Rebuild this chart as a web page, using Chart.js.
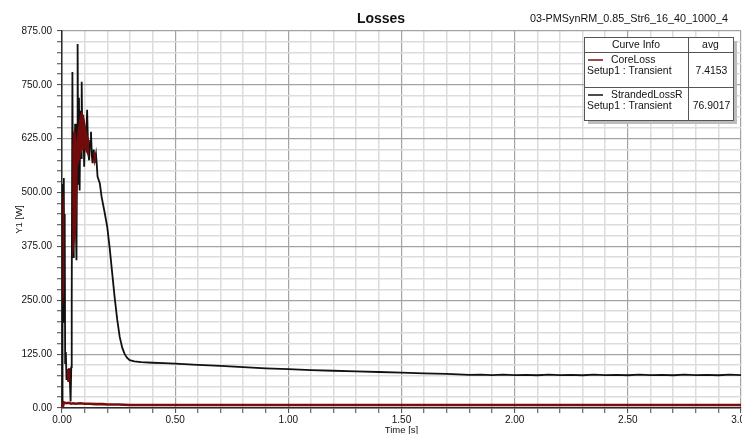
<!DOCTYPE html>
<html>
<head>
<meta charset="utf-8">
<script src="https://cdn.jsdelivr.net/npm/chart.js@4.4.1/dist/chart.umd.min.js"></script>
<style>
  html, body { margin: 0; padding: 0; background: #ffffff; overflow: hidden; }
  #wrap { width: 742px; height: 434px; position: relative; }
</style>
</head>
<body>
<div id="wrap"><canvas id="losses" width="742" height="434"></canvas></div>
<script>
// ---- StrandedLossR (W) over time (s) ----
const strandedTime = [
  0.000, 0.001, 0.002, 0.004, 0.006, 0.008, 0.010, 0.012, 0.014, 0.017,
  0.020, 0.024, 0.028, 0.032, 0.035, 0.038, 0.041, 0.043, 0.046, 0.049,
  0.052, 0.055, 0.058, 0.061, 0.064, 0.067, 0.069, 0.072, 0.075, 0.078,
  0.081, 0.084, 0.087, 0.090, 0.094, 0.098, 0.102, 0.106, 0.111, 0.116,
  0.120, 0.124, 0.128, 0.132, 0.135, 0.140, 0.145, 0.150, 0.153, 0.157,
  0.167, 0.175, 0.189, 0.200, 0.211, 0.222, 0.233, 0.244, 0.255, 0.266,
  0.277, 0.288, 0.299, 0.320, 0.350, 0.400, 0.450, 0.500, 0.600, 0.700,
  0.800, 0.900, 1.000, 1.100, 1.200, 1.300, 1.400, 1.500, 1.600, 1.700,
  1.750, 1.800, 1.850, 1.900, 1.950, 2.000, 2.050, 2.100, 2.150, 2.200,
  2.250, 2.300, 2.350, 2.400, 2.450, 2.500, 2.550, 2.600, 2.650, 2.700,
  2.750, 2.800, 2.850, 2.900, 2.950, 3.000
];
const strandedLoss = [
  0, 505, 210, 520, 250, 534, 200, 450, 104, 130,
  65, 90, 62, 92, 60, 15, 95, 250, 780, 350,
  640, 420, 660, 430, 343, 650, 845, 520, 720, 505,
  690, 580, 757, 600, 680, 560, 650, 600, 692, 590,
  575, 620, 641, 585, 568, 600, 575, 590, 570, 537,
  522, 490, 452, 420, 370, 312, 255, 205, 165, 140,
  125, 116, 111, 108, 106.5, 105, 104, 103, 100, 98,
  95, 92, 90, 88, 86.5, 85, 83.5, 82, 80.5, 79,
  78, 77, 77.5, 76.5, 77.5, 76.5, 77, 76, 77.5, 76.5,
  77, 76, 77.5, 76.5, 77, 76, 77.5, 76.5, 77, 76,
  77.5, 76.5, 77, 76, 77.5, 76.5
];

// ---- dense-oscillation core of StrandedLossR (low / high envelope, W) ----
const bandTime = [
  0.0012, 0.004, 0.008, 0.0115, 0.016,
  0.022, 0.030, 0.038, 0.040,
  0.045, 0.050, 0.055, 0.060, 0.065, 0.070, 0.080, 0.090, 0.100, 0.110, 0.120, 0.125,
  0.138, 0.152
];
const bandLow = [
  230, 240, 260, 300, null,
  62, 60, 64, null,
  350, 360, 380, 400, 440, 560, 580, 600, 600, 590, 580, null,
  568, 570
];
const bandHigh = [
  500, 510, 480, 440, null,
  90, 92, 88, null,
  600, 640, 650, 640, 620, 650, 680, 690, 670, 640, 620, null,
  595, 590
];

// ---- CoreLoss (W) over time (s) ----
const coreTime = [
  0.000, 0.004, 0.008, 0.012, 0.020, 0.030, 0.040, 0.050, 0.060, 0.080,
  0.100, 0.120, 0.150, 0.180, 0.200, 0.250, 0.300, 0.350, 0.500, 1.000,
  1.500, 2.000, 2.500, 3.000
];
const coreLoss = [
  0, 3, 13, 12, 11, 12, 10, 11, 10, 11,
  10, 10, 9, 9, 8, 8, 7, 7, 7, 7,
  7, 7, 7, 7
];

// ---- axis labels ----
const xTickLabels = ['0.00', '0.50', '1.00', '1.50', '2.00', '2.50', '3.00'];
const yTickLabels = ['0.00', '125.00', '250.00', '375.00', '500.00', '625.00', '750.00', '875.00'];

// ---- curve info table ----
const curveNames = ['CoreLoss', 'StrandedLossR'];
const curveSetups = ['Setup1 : Transient', 'Setup1 : Transient'];
const curveAvg = ['7.4153', '76.9017'];
const curveColors = ['#7a0c0c', '#111111'];

const toPoints = (xs, ys) => xs.map((x, i) => ({ x: x, y: ys[i] }));

const FONT = "'Liberation Sans', Arial, sans-serif";

const isMultiple = (v, step) => Math.abs(v / step - Math.round(v / step)) < 1e-6;

const headerAndTable = {
  id: 'headerAndTable',
  afterDraw(chart) {
    const ctx = chart.ctx;
    ctx.save();
    // title + design name
    ctx.fillStyle = '#111';
    ctx.textBaseline = 'middle';
    ctx.textAlign = 'center';
    ctx.font = 'bold 14px ' + FONT;
    ctx.fillText('Losses', 381, 19);
    ctx.textAlign = 'left';
    ctx.font = '10.8px ' + FONT;
    ctx.fillText('03-PMSynRM_0.85_Str6_16_40_1000_4', 530, 19);

    // curve info box
    const x0 = 584, y0 = 37, x1 = 733, y1 = 120, xc = 688;
    const rowY = [52, 87];
    ctx.fillStyle = '#bcbcbc';
    ctx.fillRect(x1, y0 + 4, 4, y1 - y0);
    ctx.fillRect(x0 + 4, y1, x1 - x0, 4);
    ctx.fillStyle = '#ffffff';
    ctx.fillRect(x0, y0, x1 - x0, y1 - y0);
    ctx.strokeStyle = '#555';
    ctx.lineWidth = 1;
    ctx.strokeRect(x0 + 0.5, y0 + 0.5, x1 - x0, y1 - y0);
    ctx.beginPath();
    ctx.moveTo(xc + 0.5, y0); ctx.lineTo(xc + 0.5, y1);
    rowY.forEach(y => { ctx.moveTo(x0, y + 0.5); ctx.lineTo(x1, y + 0.5); });
    ctx.stroke();

    ctx.fillStyle = '#111';
    ctx.font = '10.4px ' + FONT;
    ctx.textAlign = 'center';
    ctx.fillText('Curve Info', (x0 + xc) / 2, 45);
    ctx.fillText('avg', (xc + x1) / 2, 45);

    curveNames.forEach((name, i) => {
      const top = rowY[i];
      ctx.strokeStyle = curveColors[i];
      ctx.lineWidth = 1.5;
      ctx.beginPath();
      ctx.moveTo(588, top + 8);
      ctx.lineTo(603, top + 8);
      ctx.stroke();
      ctx.fillStyle = '#111';
      ctx.textAlign = 'left';
      ctx.fillText(name, 611, top + 8);
      ctx.fillText(curveSetups[i], 587, top + 19);
      ctx.textAlign = 'center';
      ctx.fillText(curveAvg[i], (xc + x1) / 2 + 1, top + 19);
    });
    ctx.restore();
  }
};

new Chart(document.getElementById('losses'), {
  type: 'line',
  data: {
    datasets: [
      {
        label: 'StrandedLossR',
        data: toPoints(strandedTime, strandedLoss),
        borderColor: '#111111',
        borderWidth: 1.8,
        pointRadius: 0,
        tension: 0,
        fill: false,
        order: 3
      },
      {
        label: 'CoreLoss',
        data: toPoints(coreTime, coreLoss),
        borderColor: '#7a0c0c',
        borderWidth: 2.6,
        pointRadius: 0,
        tension: 0,
        fill: false,
        order: 1
      },
      {
        label: 'band low',
        data: toPoints(bandTime, bandLow),
        borderColor: 'rgba(0,0,0,0)',
        borderWidth: 0,
        pointRadius: 0,
        tension: 0,
        fill: false,
        order: 2
      },
      {
        label: 'band high',
        data: toPoints(bandTime, bandHigh),
        borderColor: 'rgba(0,0,0,0)',
        backgroundColor: '#720b0b',
        borderWidth: 0,
        pointRadius: 0,
        tension: 0,
        fill: '-1',
        order: 2
      }
    ]
  },
  options: {
    responsive: false,
    animation: false,
    events: [],
    layout: { padding: { top: 31, right: 1, left: 0, bottom: 0 } },
    plugins: {
      legend: { display: false },
      tooltip: { enabled: false },
      title: { display: false }
    },
    scales: {
      x: {
        type: 'linear',
        min: 0,
        max: 3,
        afterBuildTicks(scale) {
          const t = [];
          for (let i = 0; i <= 30; i++) t.push({ value: i / 10 });
          scale.ticks = t;
        },
        afterFit(scale) {
          scale.height = 26;
          scale.paddingLeft = 0;
          scale.paddingRight = 0;
        },
        ticks: {
          autoSkip: false,
          maxRotation: 0,
          padding: 1,
          color: '#111',
          font: { family: FONT, size: 10 },
          callback(v) {
            return isMultiple(v, 0.5) ? xTickLabels[Math.round(v / 0.5)] : '';
          }
        },
        grid: {
          color: c => isMultiple(c.tick.value, 0.5) ? '#a3a3a3' : '#dcdcdc',
          lineWidth: c => isMultiple(c.tick.value, 0.5) ? 1.2 : 1.5,
          drawTicks: true,
          tickLength: 5,
          tickColor: '#444',
          tickWidth: 1
        },
        border: { display: true, color: '#2a2a2a', width: 1.5 },
        title: {
          display: true,
          text: 'Time [s]',
          color: '#111',
          font: { family: FONT, size: 9.5, lineHeight: 0.8 },
          padding: { top: 0, bottom: 0 }
        }
      },
      y: {
        type: 'linear',
        min: 0,
        max: 875,
        afterBuildTicks(scale) {
          const t = [];
          for (let i = 0; i <= 35; i++) t.push({ value: i * 25 });
          scale.ticks = t;
        },
        afterFit(scale) {
          scale.width = 62;
          scale.paddingTop = 0;
          scale.paddingBottom = 0;
        },
        ticks: {
          autoSkip: false,
          padding: 5,
          color: '#111',
          font: { family: FONT, size: 10 },
          callback(v) {
            return isMultiple(v, 125) ? yTickLabels[Math.round(v / 125)] : '';
          }
        },
        grid: {
          color: c => isMultiple(c.tick.value, 125) ? '#a3a3a3' : '#dcdcdc',
          lineWidth: c => isMultiple(c.tick.value, 125) ? 1.2 : 1.5,
          drawTicks: true,
          tickLength: 5,
          tickColor: '#444',
          tickWidth: 1
        },
        border: { display: true, color: '#2a2a2a', width: 1.5 },
        title: {
          display: true,
          text: 'Y1 [W]',
          color: '#111',
          font: { family: FONT, size: 9.5 },
          padding: { top: 14, bottom: 0 }
        }
      }
    }
  },
  plugins: [headerAndTable]
});
</script>
</body>
</html>
